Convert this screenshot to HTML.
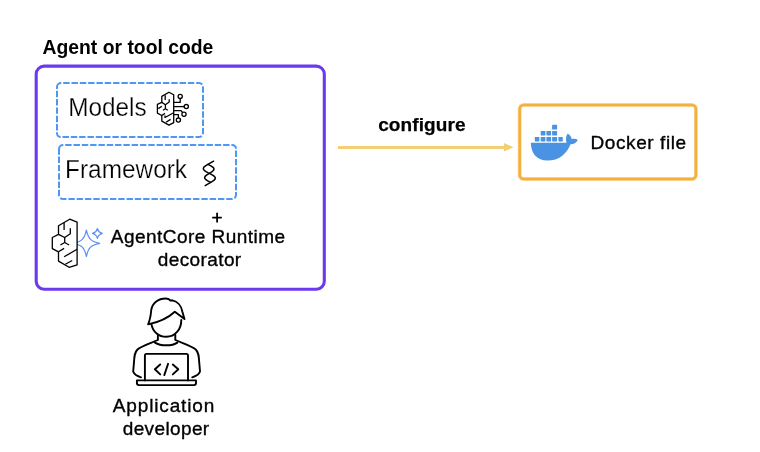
<!DOCTYPE html>
<html><head><meta charset="utf-8">
<style>
html,body{margin:0;padding:0;background:#fff;}
body{width:760px;height:452px;overflow:hidden;position:relative;}
svg{position:absolute;left:0;top:0;will-change:transform;}
text{font-family:"Liberation Sans",sans-serif;fill:#000;stroke:#000;stroke-width:0.35px;}
</style></head><body>
<svg width="760" height="452" viewBox="0 0 760 452">
  <!-- title -->
  <text x="42.52" y="53.5" font-size="20" font-weight="bold" style="stroke-width:0" textLength="170.82" lengthAdjust="spacingAndGlyphs">Agent or tool code</text>
  <!-- purple box -->
  <rect x="36.2" y="66.15" width="288.1" height="223.15" rx="8" ry="8" fill="none" stroke="#6b3aee" stroke-width="3.1"/>
  <!-- models dashed -->
  <path d="M57 87 A4 4 0 0 1 61 83 H199 A4 4 0 0 1 203 87 V133 A4 4 0 0 1 199 137 H61 A4 4 0 0 1 57 133 Z" fill="none" stroke="#4d98f7" stroke-width="2" stroke-dasharray="6.45 1.86"/>
  <text x="68.23" y="115.8" font-size="26" style="stroke:#fff;stroke-width:0.25px" textLength="78.45" lengthAdjust="spacingAndGlyphs">Models</text>
  <!-- framework dashed -->
  <path d="M59 149 A4 4 0 0 1 63 145 H232 A4 4 0 0 1 236 149 V195 A4 4 0 0 1 232 199 H63 A4 4 0 0 1 59 195 Z" fill="none" stroke="#4d98f7" stroke-width="2" stroke-dasharray="6.45 1.86"/>
  <text x="65.12" y="177.9" font-size="26" style="stroke:#fff;stroke-width:0.25px" textLength="121.89" lengthAdjust="spacingAndGlyphs">Framework</text>
  <!-- helix -->
  <g fill="none" stroke="#000" stroke-width="1.5" stroke-linecap="round" stroke-linejoin="round">
    <path d="M213.6 161.2 L207.95 164.30 L206.69 165.05 L205.53 165.81 L204.54 166.56 L203.81 167.32 L203.40 168.07 L203.33 168.83 L203.62 169.58 L204.27 170.33 L205.22 171.09 L206.43 171.84 L207.82 172.60 L209.31 173.35 L210.79 174.10 L212.18 174.86 L213.39 175.61 L214.35 176.37 L214.99 177.12 L215.29 177.88 L215.22 178.63 L214.80 179.38 L214.07 180.14 L213.09 180.89 L211.92 181.65 L210.67 182.40 L205.2 185.6"/>
    <path d="M207.95 164.30 L209.43 165.05 L210.83 165.81 L212.04 166.56 L212.99 167.32 L213.64 168.07 L213.93 168.83 L213.86 169.58 L213.44 170.33 L212.72 171.09 L211.73 171.84 L210.57 172.60 L209.31 173.35 L208.05 174.10 L206.88 174.86 L205.90 175.61 L205.17 176.37 L204.75 177.12 L204.69 177.88 L204.98 178.63 L205.62 179.38 L206.58 180.14 L207.79 180.89 L209.18 181.65 L210.67 182.40"/>
  </g>
  <!-- brain icon models -->
  <g fill="none" stroke="#000" stroke-width="1.3" stroke-linejoin="round">
    <path d="M168.95 92.2 L173.7 94.8 L173.7 122.7 L168.95 125.1 L161.8 121.1 L161.8 115.5 L157.4 113.1 L157.4 104.3 L161.8 102.4 L161.8 96.4 Z"/>
    <path d="M165.2 95.2 L165.2 100"/>
    <path d="M169.2 99.2 L169.2 102 L165.4 104.7 L161.8 102.4"/>
    <path d="M165.4 104.7 L165.4 108.7 L163 110.3 M165.4 108.7 L167.8 110.3"/>
    <path d="M158.3 108.6 L161.9 106.3"/>
    <path d="M161.8 115.5 L165 113.4"/>
    <path d="M165 115.6 L165 117.5 L173.7 112.7"/>
    <path d="M166 122.2 L170.6 119.4"/>
    <path d="M173.7 102.4 L180.2 102.4 L180.2 98.5"/>
    <circle cx="180.2" cy="96.4" r="2.1"/>
    <path d="M173.7 106.6 L184.2 106.6"/>
    <circle cx="186.3" cy="106.6" r="2.1"/>
    <path d="M173.7 110.6 L181 110.6 L182.6 112.5"/>
    <circle cx="184" cy="114.3" r="2.1"/>
    <path d="M173.7 114.7 L178.4 114.7 L178.4 118"/>
    <circle cx="178.4" cy="120.1" r="2.1"/>
  </g>
  <!-- agentcore icon -->
  <g fill="none" stroke="#5b8def" stroke-width="1.2" stroke-linejoin="round">
    <path d="M86.4 230.1 C88.34 238.98 90.98 241.62 99.6 243.3 C90.98 244.98 88.34 247.62 86.4 256.5 C84.46 247.62 81.82 244.98 73.2 243.3 C81.82 241.62 84.46 238.98 86.4 230.1 Z"/>
    <path d="M97.4 228.50 C98.10 231.10 99.70 232.70 102.30 233.4 C99.70 234.10 98.10 235.70 97.4 238.30 C96.70 235.70 95.10 234.10 92.50 233.4 C95.10 232.70 96.70 231.10 97.4 228.50 Z"/>
  </g>
  <g fill="none" stroke="#000" stroke-width="1.3" stroke-linejoin="round">
    <path fill="#fff" d="M69.7 219.2 L77.1 222.1 L77.1 264.8 L69.1 267.3 L58.5 261.1 L58.5 251.8 L52.3 248.7 L52.3 237.5 L58.5 234.4 L58.5 225.8 Z"/>
    <path d="M64.1 222.7 L64.1 230.1"/>
    <path d="M70.3 228.3 L70.3 233.8 L64.7 237.5 L58.5 234.4"/>
    <path d="M64.7 237.5 L64.7 242.5 L60.4 245 M64.7 242.5 L69.1 245"/>
    <path d="M58.5 251.8 L64.1 248.4"/>
    <path d="M64.1 256.8 L77.1 249.3"/>
    <path d="M65.3 264.2 L72.2 260.5"/>
  </g>
  <path d="M212.2 217.6 H221.8 M217.1 212.8 V222.5" stroke="#000" stroke-width="1.8" fill="none"/>
  <text x="110.8" y="242.6" font-size="19" textLength="174.27" lengthAdjust="spacing">AgentCore Runtime</text>
  <text x="157.7" y="265.9" font-size="19" textLength="83.48" lengthAdjust="spacing">decorator</text>
  <!-- arrow -->
  <line x1="338" y1="147.4" x2="505" y2="147.4" stroke="#f4ce74" stroke-width="3"/>
  <path d="M504 143 L513.5 147.3 L504 151.6 Z" fill="#f4ce74"/>
  <text x="378.2" y="131.1" font-size="19" font-weight="bold" style="stroke-width:0.25px" textLength="87.36" lengthAdjust="spacing">configure</text>
  <!-- orange box -->
  <rect x="519.7" y="105" width="176.2" height="74" rx="4" ry="4" fill="none" stroke="#f2b13c" stroke-width="4.0" stroke-opacity="0.45"/>
  <rect x="519.7" y="105" width="176.2" height="74" rx="4" ry="4" fill="none" stroke="#f2b13c" stroke-width="2.6"/>
  <!-- docker -->
  <g fill="#4a93e3">
    <rect x="552.1" y="124.8" width="5" height="4.7" rx="0.6"/>
    <rect x="540.7" y="131" width="4.7" height="4.4" rx="0.6"/>
    <rect x="546.4" y="131" width="4.7" height="4.4" rx="0.6"/>
    <rect x="552.1" y="131" width="5" height="4.4" rx="0.6"/>
    <rect x="534.8" y="136.9" width="4.6" height="4.5" rx="0.6"/>
    <rect x="540.7" y="136.9" width="4.7" height="4.5" rx="0.6"/>
    <rect x="546.4" y="136.9" width="4.7" height="4.5" rx="0.6"/>
    <rect x="552.1" y="136.9" width="5" height="4.5" rx="0.6"/>
    <rect x="558.4" y="136.9" width="4.4" height="4.5" rx="0.6"/>
    <path d="M530.8 142.7 L566.5 142.7 C565.5 139 566 135.5 567.8 133.4 C569.8 134.8 571.5 137 571.8 139.2 C573.8 138.5 576.3 138.8 577.8 139.9 C576.5 142.8 573.5 144.3 570.5 144.2 C567 153.5 559 160.6 547.5 160.6 C537 160.6 531 153.5 530.8 142.7 Z"/>
  </g>
  <text x="590.5" y="149.3" font-size="19" textLength="95.65" lengthAdjust="spacing">Docker file</text>
  <!-- developer icon -->
  <g fill="none" stroke="#000" stroke-width="1.9" stroke-linejoin="round" stroke-linecap="round">
    <path d="M148.1 324.4 C150 320 150.8 315 151.2 310.5 C152 303 158 298.5 165.9 298.5 C168 298.5 169.6 299.2 170.6 300.6 L172.4 300.3 C177.5 301.5 181.5 306 182.3 311.5 L184.5 319 L174.8 311.7 C167 319 157 322.5 148.1 324.4 Z"/>
    <path d="M151.4 323.9 C152.5 331.5 158.5 336.8 166.4 336.8 C175 336.8 181.3 329.5 181.3 319.9"/>
    <path d="M157.9 334.8 V340 C151 343 142 345.5 137.5 349.5 C134.5 352.5 134.3 356 134 362 L133.2 371.5 C134 374 137 376 141 377.3"/>
    <path d="M175.3 334.8 V340 C182.2 343 191.2 345.5 195.7 349.5 C198.7 352.5 198.9 356 199.2 362 L200 371.5 C199.2 374 196.2 376 192.2 377.3"/>
    <path d="M154.9 342.6 C158 344.5 162 345.3 166.4 345.3 C170.8 345.3 174.5 344.5 177.4 342.6"/>
    <path d="M144.9 380.4 L144.9 355.5 Q144.9 353.9 146.5 353.9 L186.4 353.9 Q188 353.9 188 355.5 L188 380.4"/>
    <path d="M136.9 380.4 L196 380.4 L196 383 Q196 385.1 194 385.1 L139 385.1 Q136.9 385.1 136.9 383 Z"/>
    <path d="M160.2 364.5 L154.9 369.3 L160.2 374.4"/>
    <path d="M168.1 363.8 L164.3 375.1"/>
    <path d="M172.8 364.5 L178.3 369.3 L172.8 374.4"/>
  </g>
  <text x="112.8" y="411.6" font-size="19" textLength="101.45" lengthAdjust="spacing">Application</text>
  <text x="122.7" y="434.6" font-size="19" textLength="86.45" lengthAdjust="spacing">developer</text>
</svg>
</body></html>
